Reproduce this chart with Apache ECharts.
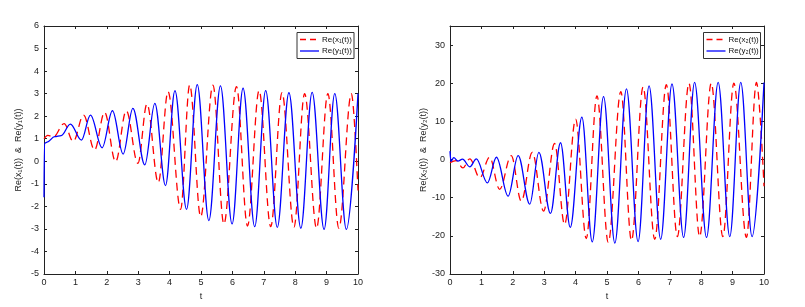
<!DOCTYPE html>
<html><head><meta charset="utf-8">
<script src="https://cdn.jsdelivr.net/npm/echarts@6/dist/echarts.min.js"></script>
<style>html,body{margin:0;padding:0;background:#fff}#c{width:805px;height:307px}</style>
</head><body><div id="c"></div>
<script>
// ---- data (extrema of each curve) ----
const xTicks = [0,1,2,3,4,5,6,7,8,9,10];
const leftYTicks = [-5,-4,-3,-2,-1,0,1,2,3,4,5,6];
const rightYTicks = [-30,-20,-10,0,10,20,30];

const x1T = [0,0.12,0.3,0.64,0.93,1.26,1.61,1.93,2.28,2.62,2.99,3.28,3.64,3.95,4.35,4.64,4.99,5.38,5.73,6.13,6.48,6.85,7.22,7.58,7.96,8.30,8.68,9.04,9.39,9.79,10];
const x1V = [1.0,1.15,1.08,1.67,0.88,2.05,0.5,2.17,-0.02,2.24,-0.09,2.54,-0.95,3.09,-2.13,3.38,-2.46,3.38,-2.78,3.31,-2.87,3.13,-2.9,3.04,-2.92,3.0,-2.97,3.0,-2.97,3.0,-1.3];

const y1T = [0,0.015,0.1,0.34,0.55,0.84,1.19,1.48,1.85,2.18,2.52,2.83,3.21,3.53,3.87,4.17,4.54,4.88,5.25,5.62,5.99,6.34,6.71,7.06,7.43,7.80,8.18,8.54,8.92,9.26,9.63,10];
const y1V = [-1.6,0.8,0.85,1.09,1.14,1.65,0.94,2.05,0.6,2.24,0.32,2.35,-0.16,2.57,-1.08,3.13,-2.13,3.40,-2.63,3.34,-2.78,3.24,-2.9,3.13,-2.93,3.04,-2.97,3.06,-3.02,3.0,-3.02,3.0];

const x2T = [0,0.2,0.41,0.63,0.95,1.26,1.58,1.95,2.27,2.62,2.98,3.33,3.65,4.0,4.34,4.68,5.04,5.44,5.78,6.15,6.52,6.89,7.24,7.61,7.95,8.32,8.69,9.04,9.44,9.76,10];
const x2V = [-0.8,-0.3,-2.2,0.2,-4.8,0.6,-7.8,1.0,-10.9,1.9,-13.5,4.2,-17,10.6,-20.7,16.7,-21.7,17.8,-21.2,19,-20.9,19.6,-20.2,20,-20.2,20,-20.2,20,-20.4,20.2,-7];

const y2T = [0,0.03,0.12,0.25,0.4,0.63,0.84,1.19,1.48,1.85,2.17,2.54,2.83,3.2,3.52,3.83,4.2,4.53,4.89,5.25,5.62,5.99,6.34,6.71,7.07,7.44,7.79,8.17,8.54,8.91,9.26,9.62,10];
const y2V = [2.2,-0.5,0.5,-0.4,0.1,-1.9,0.17,-6.1,0.6,-9.6,1.04,-11.7,1.9,-14.1,4.4,-17.8,11.1,-21.6,16.5,-21.9,18.5,-21.5,19.3,-20.9,19.8,-20.4,20.2,-20.4,20.2,-20.2,20.2,-20.2,20.2];

const names = {x1:'Re(x\u2081(t))', y1:'Re(y\u2081(t))', x2:'Re(x\u2082(t))', y2:'Re(y\u2082(t))'};
const yNames = ['Re(x\u2081(t))  &  Re(y\u2081(t))', 'Re(x\u2082(t))  &  Re(y\u2082(t))'];

const pair = (ts, vs) => ts.map((t,i)=>[t, vs[i]]);
const FONT = 'Liberation Sans, Arial, sans-serif';
const labelStyle = {color:'#222', fontSize:9, fontFamily:FONT};
const AX = {show:true, onZero:false, lineStyle:{color:'#222', width:1}};
const TICK = {inside:true, length:3, lineStyle:{color:'#222'}};
const RED = '#ff0000', BLUE = '#0000ff';

function xAxes(gi){
  return [
    {type:'value', gridIndex:gi, min:0, max:10, interval:1,
     name:'t', nameLocation:'middle', nameGap:17, nameTextStyle:{fontSize:9, color:'#222', fontFamily:FONT},
     axisLine:AX, axisTick:TICK,
     axisLabel:Object.assign({margin:4}, labelStyle), splitLine:{show:false}},
    {type:'value', gridIndex:gi, position:'top', min:0, max:10, interval:1,
     axisLine:AX, axisTick:TICK, axisLabel:{show:false}, splitLine:{show:false}}
  ];
}
function yAxes(gi, min, max, interval, name, showMax){
  return [
    {type:'value', gridIndex:gi, min:min, max:max, interval:interval,
     name:name, nameLocation:'middle', nameGap:21, nameRotate:90,
     nameTextStyle:{fontSize:9, color:'#222', fontFamily:FONT},
     axisLine:AX, axisTick:TICK,
     axisLabel:Object.assign({margin:5, showMaxLabel:showMax}, labelStyle), splitLine:{show:false}},
    {type:'value', gridIndex:gi, position:'right', min:min, max:max, interval:interval,
     axisLine:AX, axisTick:TICK, axisLabel:{show:false}, splitLine:{show:false}}
  ];
}
function line(name, data, xi, yi, color, dashed){
  return {type:'line', name:name, data:data, xAxisIndex:xi, yAxisIndex:yi,
    showSymbol:false, symbol:'none', smooth:0.36, smoothMonotone:'x',
    lineStyle:{color:color, width:1.3, type: dashed ? [8,5] : 'solid'},
    itemStyle:{color:color}, animation:false, clip:true};
}
// legend box drawn as graphic (line samples + text)
function legendBox(x, y, n1, n2){
  const w = 57, h = 26;
  return [
    {type:'rect', shape:{x:x, y:y, width:w, height:h}, style:{fill:'#fff', stroke:'#333', lineWidth:1}, z:100},
    {type:'line', shape:{x1:x+3, y1:y+7, x2:x+22, y2:y+7}, style:{stroke:RED, lineWidth:1.3, lineDash:[6,4]}, z:101},
    {type:'line', shape:{x1:x+3, y1:y+18.5, x2:x+22, y2:y+18.5}, style:{stroke:BLUE, lineWidth:1.3}, z:101},
    {type:'text', x:x+25, y:y+7, style:{text:n1, fontSize:8, fill:'#111', fontFamily:FONT, verticalAlign:'middle'}, z:101},
    {type:'text', x:x+25, y:y+18.5, style:{text:n2, fontSize:8, fill:'#111', fontFamily:FONT, verticalAlign:'middle'}, z:101}
  ];
}

const chart = echarts.init(document.getElementById('c'), null, {renderer:'canvas'});
chart.setOption({
  animation:false,
  backgroundColor:'#fff',
  grid:[
    {left:44, top:26, width:314, height:248},
    {left:450, top:26, width:314, height:248}
  ],
  xAxis:[...xAxes(0), ...xAxes(1)],
  yAxis:[...yAxes(0,-5,6,1,yNames[0],true), ...yAxes(1,-30,35,10,yNames[1],false)],
  graphic:[...legendBox(297, 32.5, names.x1, names.y1), ...legendBox(703.5, 32.5, names.x2, names.y2)],
  series:[
    line(names.x1, pair(x1T,x1V), 0, 0, RED, true),
    line(names.y1, pair(y1T,y1V), 0, 0, BLUE, false),
    line(names.x2, pair(x2T,x2V), 2, 2, RED, true),
    line(names.y2, pair(y2T,y2V), 2, 2, BLUE, false)
  ]
});
</script></body></html>
